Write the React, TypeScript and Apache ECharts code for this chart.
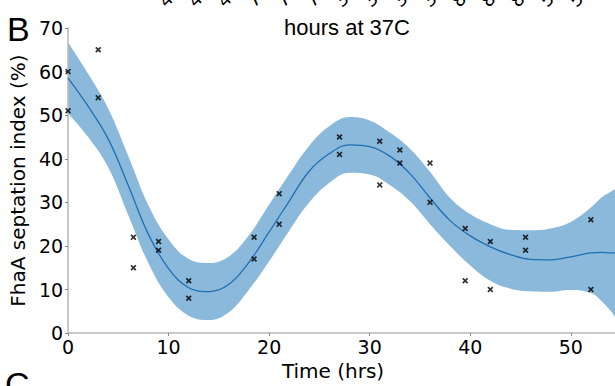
import React, { useEffect, useRef } from "react";
import * as echarts from "echarts";

// Fitted curve (hours -> septation index %)
const fitHours = [0, 2, 4, 6, 8, 10, 12, 14, 16, 18, 20, 22, 24, 26, 28, 30, 32, 34, 36, 38, 40, 42, 44, 46, 48, 50, 52, 53, 54, 54.4];
const fitMean = [58.5, 52, 44.5, 33.8, 22.6, 14.8, 10.4, 9.5, 11.2, 16.3, 23.2, 30.3, 37.2, 41.2, 43.2, 42.8, 40.6, 36.6, 31, 25.8, 22.3, 19.8, 18, 16.9, 16.8, 17.5, 18.4, 18.5, 18.4, 18.4];
const fitUpper = [66.7, 59.5, 51.5, 40.6, 29.3, 21.5, 17, 16.1, 17.6, 22.5, 29.5, 36.5, 43, 47.5, 49.6, 48.8, 46, 42.3, 37, 31, 27.3, 25, 23.7, 23.6, 24, 25.5, 28.8, 31, 32.5, 33];
const fitLower = [50.4, 45, 38, 27, 16, 8.2, 4, 3, 4.8, 10, 16.5, 23.5, 30, 34.5, 36.8, 36.4, 34, 30.3, 25, 20, 15.5, 12, 10.2, 9.6, 9.5, 9.9, 9.2, 7.5, 5, 3.7];

// Measured samples
const sampleHours = [0, 0, 3, 3, 6.5, 6.5, 9, 9, 12, 12, 18.5, 18.5, 21, 21, 27, 27, 31, 31, 33, 33, 36, 36, 39.5, 39.5, 42, 42, 45.5, 45.5, 52, 52];
const sampleValues = [60, 51, 65, 54, 22, 15, 21, 19, 12, 8, 22, 17, 32, 25, 45, 41, 44, 34, 42, 39, 39, 30, 24, 12, 21, 10, 22, 19, 26, 10];

// Tick values
const xTicks = [0, 10, 20, 30, 40, 50];
const yTicks = [0, 10, 20, 30, 40, 50, 60, 70];

// Cut-off rotated labels from the panel above
const topFragments = ["4", "4", "4", "7", "7", "7", "3", "3", "3", "3", "8", "8", "8", "5", "5"];

const FONT = "DejaVu Sans";
const CROSS = "path://M2,0L5,3L8,0L10,2L7,5L10,8L8,10L5,7L2,10L0,8L3,5L0,2Z";

export default function App() {
  const ref = useRef<HTMLDivElement>(null);
  useEffect(() => {
    if (!ref.current) return;
    const chart = echarts.init(ref.current, null, { renderer: "svg" });
    const upperData = fitHours.map((h, i) => [h, fitUpper[i]]);
    const lowerData = fitHours.map((h, i) => [h, fitLower[i]]);
    const meanData = fitHours.map((h, i) => [h, fitMean[i]]);
    const pts = sampleHours.map((h, i) => [h, sampleValues[i]]);
    const frag = topFragments.map((t, i) => ({
      type: "text",
      x: 168 + i * 29.3,
      y: 10,
      rotation: Math.PI / 4,
      style: { text: t, fontSize: 18, fontFamily: FONT, fill: "#000", align: "left", verticalAlign: "bottom" },
      silent: true,
    }));
    chart.setOption({
      animation: false,
      backgroundColor: "#fff",
      grid: { left: 68, right: 0, top: 28, bottom: 45 },
      xAxis: {
        type: "value",
        min: 0,
        max: 54.4,
        interval: 10,
        name: "Time (hrs)",
        nameLocation: "middle",
        nameGap: 26,
        nameTextStyle: { fontFamily: FONT, fontSize: 20, color: "#000", padding: [0, 17, 0, 0] },
        axisLine: { show: true, lineStyle: { color: "#b8b8b8", width: 1.5 } },
        axisTick: { show: true, length: 3, lineStyle: { color: "#888" } },
        axisLabel: {
          fontFamily: FONT,
          fontSize: 19,
          color: "#000",
          margin: 4,
          showMaxLabel: false,
          formatter: (v: number) => (xTicks.includes(v) ? String(v) : ""),
        },
        splitLine: { show: false },
        z: 5,
      },
      yAxis: {
        type: "value",
        min: 0,
        max: 70,
        interval: 10,
        name: "FhaA septation index (%)",
        nameLocation: "middle",
        nameGap: 38,
        nameTextStyle: { fontFamily: FONT, fontSize: 20, color: "#000" },
        axisLine: { show: true, lineStyle: { color: "#b8b8b8", width: 1.5 } },
        axisTick: { show: true, length: 3, lineStyle: { color: "#888" } },
        axisLabel: {
          fontFamily: FONT,
          fontSize: 19,
          color: "#000",
          margin: 5,
          formatter: (v: number) => (yTicks.includes(v) ? String(v) : ""),
        },
        splitLine: { show: false },
        z: 5,
      },
      graphic: [
        {
          type: "text",
          x: 347,
          y: 27,
          style: { text: "hours at 37C", fontSize: 22, fontFamily: "Liberation Sans", fill: "#000", align: "center", verticalAlign: "middle" },
        },
        {
          type: "text",
          x: 7,
          y: 29,
          style: { text: "B", fontSize: 34, fontFamily: "Liberation Sans", fill: "#000", align: "left", verticalAlign: "middle" },
        },
        {
          type: "text",
          x: 5,
          y: 367,
          style: { text: "C", fontSize: 34, fontFamily: "Liberation Sans", fill: "#000", align: "left", verticalAlign: "top" },
        },
        ...frag,
      ],
      series: [
        {
          type: "line",
          data: upperData,
          smooth: 0.4,
          symbol: "none",
          lineStyle: { width: 0, opacity: 0 },
          areaStyle: { color: "#8bb9dc", opacity: 1, origin: "start" },
          silent: true,
          z: 1,
        },
        {
          type: "line",
          data: lowerData,
          smooth: 0.4,
          symbol: "none",
          lineStyle: { width: 0, opacity: 0 },
          areaStyle: { color: "#ffffff", opacity: 1, origin: "start" },
          silent: true,
          z: 2,
        },
        {
          type: "line",
          data: meanData,
          smooth: 0.4,
          symbol: "none",
          lineStyle: { color: "#1f6fb4", width: 1.3 },
          z: 6,
        },
        {
          type: "scatter",
          data: pts,
          symbol: CROSS,
          symbolSize: 6,
          itemStyle: { color: "#000" },
          z: 7,
        },
      ],
    });
    return () => chart.dispose();
  }, []);
  return <div ref={ref} style={{ position: "fixed", left: 0, top: 0, width: 615, height: 386 }} />;
}
